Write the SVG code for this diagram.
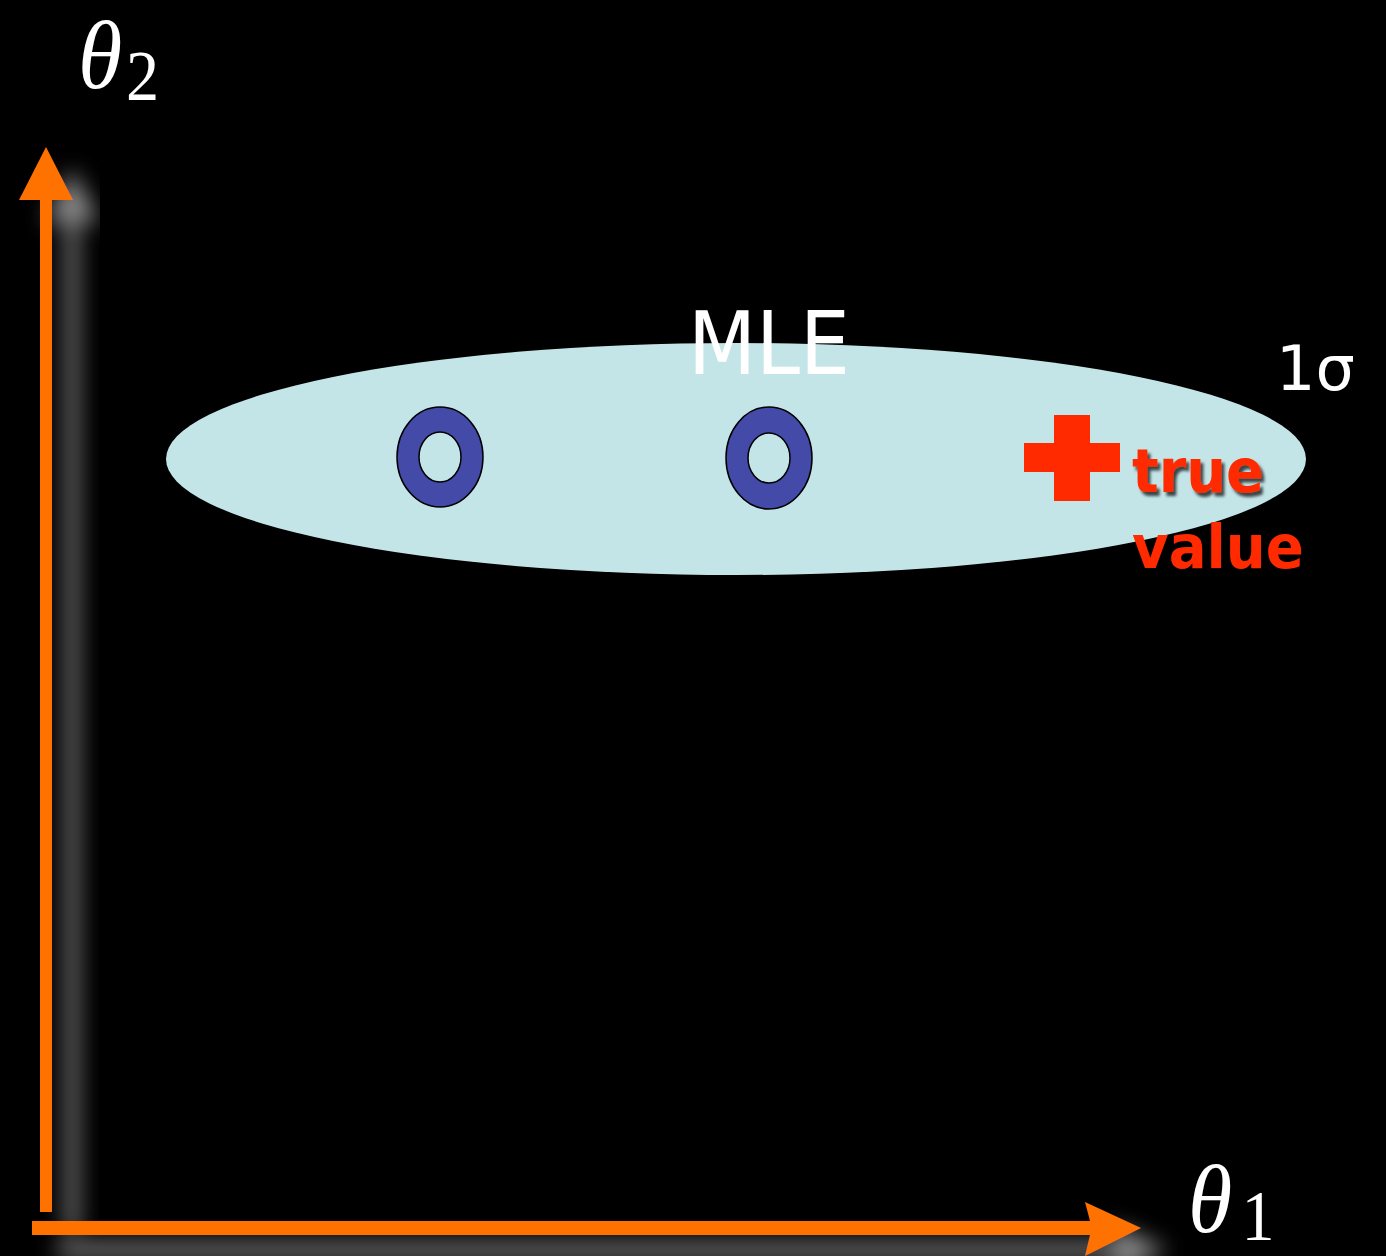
<svg xmlns="http://www.w3.org/2000/svg" width="1386" height="1256" viewBox="0 0 1386 1256">
  <defs>
    <filter id="axisShadow" x="-50%" y="-50%" width="200%" height="200%">
      <feGaussianBlur in="SourceAlpha" stdDeviation="11"/>
      <feOffset dx="26" dy="22" result="b"/>
      <feFlood flood-color="#9a9a9a" flood-opacity="0.9"/>
      <feComposite in2="b" operator="in" result="s"/>
      <feMerge><feMergeNode in="s"/><feMergeNode in="SourceGraphic"/></feMerge>
    </filter>
    <filter id="textShadow" x="-20%" y="-20%" width="140%" height="140%">
      <feGaussianBlur in="SourceAlpha" stdDeviation="1.5"/>
      <feOffset dx="3" dy="4" result="b"/>
      <feFlood flood-color="#000" flood-opacity="0.7"/>
      <feComposite in2="b" operator="in" result="s"/>
      <feMerge><feMergeNode in="s"/><feMergeNode in="SourceGraphic"/></feMerge>
    </filter>
    <style>
      .axis { fill: #FF7200; }
      .theta { font-family: "Liberation Serif", "DejaVu Serif", serif; fill: #fff; font-style: italic; font-size: 98px; }
      .sub { font-style: normal; }
      .donut { fill: #434AA8; stroke: #000; stroke-width: 1.5; }
      .hole { fill: #C3E5E7; stroke: #000; stroke-width: 1.5; }
      .red { fill: #FF2A00; }
      .lbl { font-family: "DejaVu Sans", Verdana, sans-serif; }
    </style>
  </defs>
  <rect x="0" y="0" width="1386" height="1256" fill="#000"/>

  <g id="connectors">
    <g id="axis-y" filter="url(#axisShadow)">
      <path class="axis" d="M40,1212 L40,200 L19,200 L46,147 L73,200 L52,200 L52,1212 Z"/>
    </g>
    <g id="axis-x" filter="url(#axisShadow)">
      <path class="axis" d="M32,1221 L1090,1221 L1085,1202 L1141,1228 L1085,1256 L1090,1235 L32,1235 Z"/>
    </g>
  </g>

  <g id="label-theta2">
    <text class="theta" transform="translate(78,88) scale(0.92,1)">θ<tspan class="sub" font-size="72" dx="4" dy="12">2</tspan></text>
  </g>
  <g id="label-theta1">
    <text class="theta" transform="translate(1188,1232) scale(0.92,1)">θ<tspan class="sub" font-size="72" dx="10" dy="8">1</tspan></text>
  </g>

  <g id="ellipse-1sigma">
    <ellipse cx="736" cy="459" rx="570" ry="116" fill="#C3E5E7"/>
  </g>

  <g id="label-mle">
    <text class="lbl" x="769" y="374" font-size="88" fill="#fff" text-anchor="middle" textLength="162" lengthAdjust="spacingAndGlyphs">MLE</text>
  </g>
  <g id="label-1sigma">
    <text class="lbl" x="1276" y="390" font-size="62" fill="#fff">1σ</text>
  </g>

  <g id="mle-1">
    <ellipse class="donut" cx="440" cy="457" rx="43" ry="50"/>
    <ellipse class="hole" cx="440" cy="457" rx="21" ry="25"/>
  </g>
  <g id="mle-2">
    <ellipse class="donut" cx="769" cy="458" rx="43" ry="51"/>
    <ellipse class="hole" cx="769" cy="458" rx="21" ry="25"/>
  </g>

  <g id="true-value">
    <rect class="red" x="1054" y="415" width="36" height="86"/>
    <rect class="red" x="1024" y="443" width="96" height="29"/>
    <text class="lbl red" x="1132" y="492" font-size="60" font-weight="bold" filter="url(#textShadow)" textLength="132" lengthAdjust="spacingAndGlyphs">true</text>
    <text class="lbl red" x="1132" y="568" font-size="60" font-weight="bold" textLength="172" lengthAdjust="spacingAndGlyphs">value</text>
  </g>
</svg>
